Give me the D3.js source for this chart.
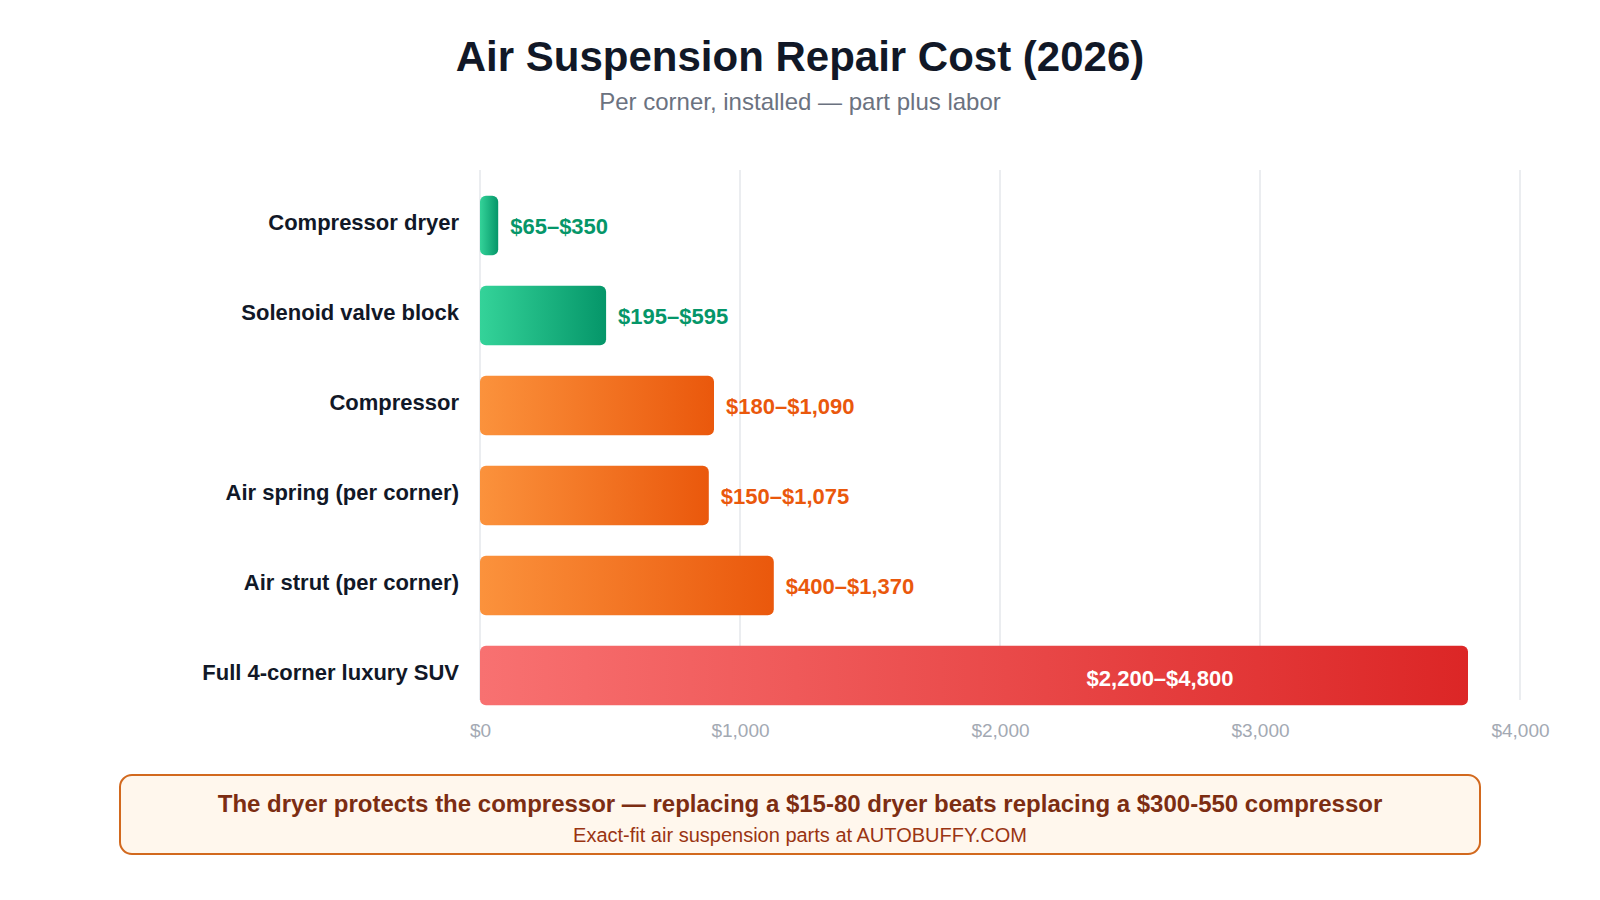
<!DOCTYPE html>
<html>
<head>
<meta charset="utf-8">
<script src="https://cdn.jsdelivr.net/npm/d3@7/dist/d3.min.js"></script>
<style>
  html, body { margin: 0; padding: 0; background: #ffffff; }
  svg { display: block; font-family: "Liberation Sans", Arial, Helvetica, sans-serif; }
</style>
</head>
<body>
<svg id="chart" width="1600" height="900"></svg>
<script>
const categories = ["Compressor dryer", "Solenoid valve block", "Compressor", "Air spring (per corner)", "Air strut (per corner)", "Full 4-corner luxury SUV"];
const barValues = [70, 485, 900, 880, 1130, 3800];
const rangeLabels = ["$65–$350", "$195–$595", "$180–$1,090", "$150–$1,075", "$400–$1,370", "$2,200–$4,800"];
const colorGroups = ["green", "green", "orange", "orange", "orange", "red"];
const tickValues = [0, 1000, 2000, 3000, 4000];

const gradients = {
  green: { from: "#34d399", to: "#059669", text: "#059669" },
  orange: { from: "#fb923c", to: "#ea580c", text: "#ea580c" },
  red: { from: "#f87171", to: "#dc2626", text: "#ffffff" }
};

const data = categories.map((c, i) => ({ cat: c, value: barValues[i], label: rangeLabels[i], group: colorGroups[i] }));

const svg = d3.select("#chart");
const W = 1600;

const x = d3.scaleLinear().domain([0, 4000]).range([480, 1520]);
const y = d3.scaleBand().domain(categories).range([180.5, 720.5]).paddingInner(0.34).paddingOuter(0.17);

const defs = svg.append("defs");
Object.entries(gradients).forEach(([k, g]) => {
  const lg = defs.append("linearGradient").attr("id", "grad-" + k).attr("x1", "0%").attr("x2", "100%").attr("y1", "0%").attr("y2", "0%");
  lg.append("stop").attr("offset", "0%").attr("stop-color", g.from);
  lg.append("stop").attr("offset", "100%").attr("stop-color", g.to);
});

// Title
svg.append("text").attr("x", W / 2).attr("y", 71).attr("text-anchor", "middle")
  .attr("font-size", 42).attr("font-weight", "bold").attr("fill", "#111827")
  .text("Air Suspension Repair Cost (2026)");
svg.append("text").attr("x", W / 2).attr("y", 110).attr("text-anchor", "middle")
  .attr("font-size", 24).attr("fill", "#6b7280")
  .text("Per corner, installed — part plus labor");

// Grid
svg.append("g").selectAll("line").data(tickValues).join("line")
  .attr("x1", d => x(d)).attr("x2", d => x(d))
  .attr("y1", 170).attr("y2", 700)
  .attr("stroke", "#e5e7eb").attr("stroke-width", 1.5);

// Axis
const axis = svg.append("g").attr("transform", "translate(0,717)")
  .call(d3.axisBottom(x).tickValues(tickValues).tickFormat(d => "$" + d3.format(",")(d)).tickSize(0));
axis.select(".domain").remove();
axis.selectAll("text").attr("font-size", 19).attr("fill", "#a3a9b3")
  .attr("font-family", "'Liberation Sans', Arial, sans-serif").attr("dy", "0.9em");

// Bars
svg.append("g").selectAll("rect").data(data).join("rect")
  .attr("x", x(0)).attr("y", d => y(d.cat))
  .attr("width", d => x(d.value) - x(0)).attr("height", y.bandwidth())
  .attr("rx", 6).attr("fill", d => `url(#grad-${d.group})`);

// Category labels
svg.append("g").selectAll("text").data(data).join("text")
  .attr("x", 459).attr("y", d => y(d.cat) + y.bandwidth() / 2 - 3)
  .attr("text-anchor", "end").attr("dominant-baseline", "central")
  .attr("font-size", 22).attr("font-weight", "bold").attr("fill", "#111827")
  .text(d => d.cat);

// Value labels
svg.append("g").selectAll("text").data(data).join("text")
  .attr("x", d => d.group === "red" ? x(d.value) - 308 : x(d.value) + 12)
  .attr("y", d => y(d.cat) + y.bandwidth() / 2 + (d.group === "red" ? 3 : 1))
  .attr("text-anchor", d => d.group === "red" ? "middle" : "start")
  .attr("dominant-baseline", "central")
  .attr("font-size", 22).attr("font-weight", "bold")
  .attr("fill", d => gradients[d.group].text)
  .text(d => d.label);

// Footer box
svg.append("rect").attr("x", 120).attr("y", 775).attr("width", 1360).attr("height", 79)
  .attr("rx", 12).attr("fill", "#fff7ed").attr("stroke", "#d2691e").attr("stroke-width", 2);
svg.append("text").attr("x", 800).attr("y", 812).attr("text-anchor", "middle")
  .attr("font-size", 24).attr("font-weight", "bold").attr("fill", "#7c2d12")
  .text("The dryer protects the compressor — replacing a $15-80 dryer beats replacing a $300-550 compressor");
svg.append("text").attr("x", 800).attr("y", 842).attr("text-anchor", "middle")
  .attr("font-size", 20).attr("fill", "#9a3412")
  .text("Exact-fit air suspension parts at AUTOBUFFY.COM");
</script>
</body>
</html>
